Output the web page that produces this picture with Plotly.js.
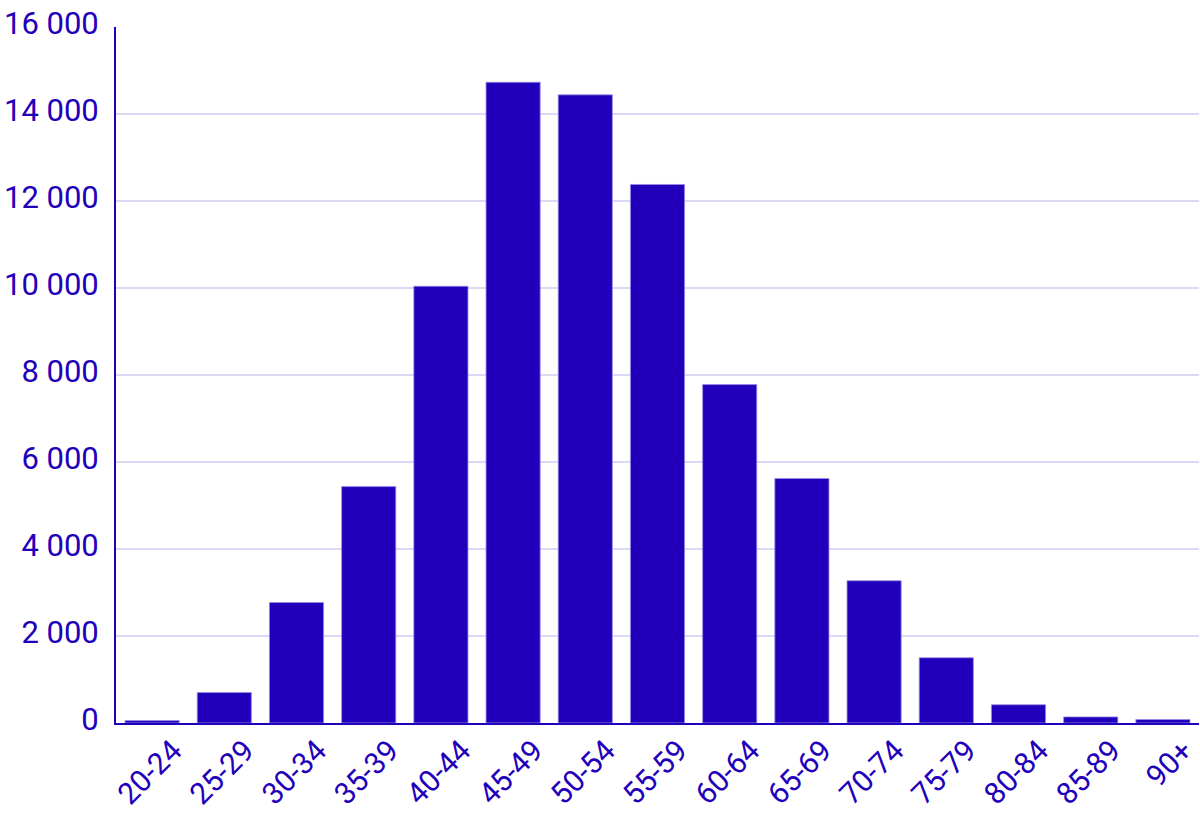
<!DOCTYPE html>
<html>
<head>
<meta charset="utf-8">
<script src="https://cdn.plot.ly/plotly-3.0.1.min.js"></script>
<style>html,body{margin:0;padding:0;background:#fff;}#chart{width:1200px;height:813px;}</style>
</head>
<body>
<div id="chart"></div>
<script>
const ageGroups = ["20-24","25-29","30-34","35-39","40-44","45-49","50-54","55-59","60-64","65-69","70-74","75-79","80-84","85-89","90+"];
const counts = [55, 700, 2770, 5435, 10040, 14730, 14440, 12380, 7780, 5620, 3270, 1500, 420, 140, 80];
const yTicks = [0, 2000, 4000, 6000, 8000, 10000, 12000, 14000, 16000];

const mainColor = "#2200bb";

Plotly.newPlot("chart", [{
  type: "bar",
  x: ageGroups,
  y: counts,
  marker: {color: mainColor, line: {color: "rgba(150,140,230,0.8)", width: 1}},
  hoverinfo: "x+y"
}], {
  width: 1200,
  height: 813,
  margin: {l: 116, r: 1, t: 27, b: 90},
  paper_bgcolor: "#fff",
  plot_bgcolor: "#fff",
  separators: ", ",
  bargap: 0.25,
  showlegend: false,
  font: {family: "Roboto, sans-serif", color: mainColor},
  xaxis: {
    type: "category",
    tickangle: -45,
    tickfont: {size: 30, color: mainColor},
    showgrid: false,
    showline: true,
    linecolor: mainColor,
    linewidth: 2,
    ticks: "",
    zeroline: false,
    ticklabelshift: 21,
    ticklabelstandoff: -4
  },
  yaxis: {
    range: [0, 16000],
    tickvals: yTicks,
    tickformat: ",d",
    tickfont: {size: 31, color: mainColor},
    showgrid: true,
    gridcolor: "#dcd8f5",
    gridwidth: 1.5,
    showline: true,
    linecolor: mainColor,
    linewidth: 2,
    zeroline: false,
    ticks: "",
    ticklabelstandoff: 9,
    ticklabelshift: -4
  }
}, {displayModeBar: false, staticPlot: true});
</script>
</body>
</html>
